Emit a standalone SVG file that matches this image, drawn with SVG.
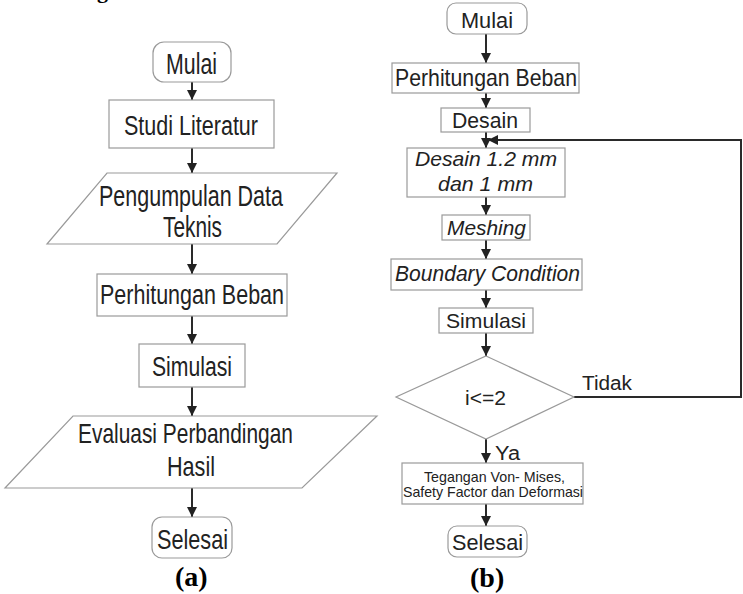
<svg xmlns="http://www.w3.org/2000/svg" width="743" height="594" viewBox="0 0 743 594">
<style>
.box{fill:#fff;stroke:#9a9a9a;stroke-width:1.2}
.t{font-family:"Liberation Sans",Arial,sans-serif;fill:#222}
.i{font-style:italic}
.c{stroke:#2a2a2a;stroke-width:2;fill:none}
.cap{font-family:"Liberation Serif","Times New Roman",serif;font-weight:bold;fill:#000}
</style>
<defs>
<marker id="ah" markerUnits="userSpaceOnUse" markerWidth="12" markerHeight="12" refX="10" refY="5" orient="auto">
<path d="M0,0 L10,5 L0,10 Z" fill="#222"/>
</marker>
</defs>
<rect width="743" height="594" fill="#fff"/>
<text class="cap" x="97" y="-2" font-size="22">g</text>

<g id="connectors">
<line class="c" x1="192" y1="82" x2="192" y2="100" marker-end="url(#ah)"/>
<line class="c" x1="192" y1="148" x2="192" y2="173" marker-end="url(#ah)"/>
<line class="c" x1="192" y1="244" x2="192" y2="274" marker-end="url(#ah)"/>
<line class="c" x1="192" y1="316" x2="192" y2="344" marker-end="url(#ah)"/>
<line class="c" x1="192" y1="387" x2="192" y2="416" marker-end="url(#ah)"/>
<line class="c" x1="192" y1="488" x2="192" y2="517" marker-end="url(#ah)"/>
<line class="c" x1="486" y1="34" x2="486" y2="63" marker-end="url(#ah)"/>
<line class="c" x1="486" y1="93" x2="486" y2="108" marker-end="url(#ah)"/>
<line class="c" x1="486" y1="132" x2="486" y2="148" marker-end="url(#ah)"/>
<line class="c" x1="486" y1="197" x2="486" y2="215" marker-end="url(#ah)"/>
<line class="c" x1="486" y1="240" x2="486" y2="259" marker-end="url(#ah)"/>
<line class="c" x1="486" y1="290" x2="486" y2="308" marker-end="url(#ah)"/>
<line class="c" x1="486" y1="333" x2="486" y2="356" marker-end="url(#ah)"/>
<line class="c" x1="486" y1="439" x2="486" y2="463" marker-end="url(#ah)"/>
<line class="c" x1="486" y1="504" x2="486" y2="526" marker-end="url(#ah)"/>
<polyline class="c" points="574,397 741,397 741,140 488,140" marker-end="url(#ah)"/>
<text class="t" x="582" y="390" font-size="20" textLength="50" lengthAdjust="spacingAndGlyphs">Tidak</text>
<text class="t" x="495" y="460" font-size="20" textLength="25" lengthAdjust="spacingAndGlyphs">Ya</text>
</g>

<g id="a-mulai">
<rect class="box" x="153" y="42" width="78" height="40" rx="11"/>
<text class="t" x="166" y="74" font-size="29" textLength="51" lengthAdjust="spacingAndGlyphs">Mulai</text>
</g>
<g id="a-studi">
<rect class="box" x="109" y="100" width="165" height="48"/>
<text class="t" x="124" y="135" font-size="27" textLength="134" lengthAdjust="spacingAndGlyphs">Studi Literatur</text>
</g>
<g id="a-pengumpulan">
<polygon class="box" points="107,173 337,173 277,244 47,244"/>
<text class="t" x="99" y="206" font-size="29" textLength="184" lengthAdjust="spacingAndGlyphs">Pengumpulan Data</text>
<text class="t" x="163" y="237" font-size="29" textLength="59" lengthAdjust="spacingAndGlyphs">Teknis</text>
</g>
<g id="a-perhitungan">
<rect class="box" x="97" y="274" width="190" height="42"/>
<text class="t" x="100" y="304" font-size="27" textLength="184" lengthAdjust="spacingAndGlyphs">Perhitungan Beban</text>
</g>
<g id="a-simulasi">
<rect class="box" x="139" y="344" width="106" height="43"/>
<text class="t" x="152" y="376" font-size="27" textLength="80" lengthAdjust="spacingAndGlyphs">Simulasi</text>
</g>
<g id="a-evaluasi">
<polygon class="box" points="73,416 377,416 302,488 5,488"/>
<text class="t" x="78" y="443" font-size="28" textLength="215" lengthAdjust="spacingAndGlyphs">Evaluasi Perbandingan</text>
<text class="t" x="167" y="476" font-size="28" textLength="48" lengthAdjust="spacingAndGlyphs">Hasil</text>
</g>
<g id="a-selesai">
<rect class="box" x="152" y="517" width="80" height="41" rx="10"/>
<text class="t" x="157" y="549" font-size="28" textLength="71" lengthAdjust="spacingAndGlyphs">Selesai</text>
</g>
<text class="cap" x="175" y="586" font-size="28">(a)</text>

<g id="b-mulai">
<rect class="box" x="447" y="3" width="80" height="31" rx="9"/>
<text class="t" x="461" y="28" font-size="22" textLength="52" lengthAdjust="spacingAndGlyphs">Mulai</text>
</g>
<g id="b-perhitungan">
<rect class="box" x="392" y="63" width="187" height="30"/>
<text class="t" x="395" y="86" font-size="24" textLength="182" lengthAdjust="spacingAndGlyphs">Perhitungan Beban</text>
</g>
<g id="b-desain">
<rect class="box" x="441" y="108" width="89" height="24"/>
<text class="t" x="452" y="128" font-size="22" textLength="66" lengthAdjust="spacingAndGlyphs">Desain</text>
</g>
<g id="b-desain2">
<rect class="box" x="407" y="148" width="158" height="49"/>
<text class="t i" x="415" y="166" font-size="21" textLength="142" lengthAdjust="spacingAndGlyphs">Desain 1.2 mm</text>
<text class="t i" x="438" y="191" font-size="21" textLength="95" lengthAdjust="spacingAndGlyphs">dan 1 mm</text>
</g>
<g id="b-meshing">
<rect class="box" x="442" y="215" width="88" height="25"/>
<text class="t i" x="447" y="235" font-size="21" textLength="79" lengthAdjust="spacingAndGlyphs">Meshing</text>
</g>
<g id="b-boundary">
<rect class="box" x="391" y="259" width="191" height="31"/>
<text class="t i" x="395" y="281" font-size="22" textLength="185" lengthAdjust="spacingAndGlyphs">Boundary Condition</text>
</g>
<g id="b-simulasi">
<rect class="box" x="439" y="308" width="94" height="25"/>
<text class="t" x="446" y="328" font-size="21" textLength="80" lengthAdjust="spacingAndGlyphs">Simulasi</text>
</g>
<g id="b-decision">
<polygon class="box" points="486,356 574,397 486,439 396,397"/>
<text class="t" x="465" y="405" font-size="21" textLength="41" lengthAdjust="spacingAndGlyphs">i&lt;=2</text>
</g>
<g id="b-hasil">
<rect class="box" x="402" y="463" width="181" height="41"/>
<text class="t" x="424" y="482" font-size="14.5" textLength="141" lengthAdjust="spacingAndGlyphs">Tegangan Von- Mises,</text>
<text class="t" x="403" y="497" font-size="14.5" textLength="180" lengthAdjust="spacingAndGlyphs">Safety Factor dan Deformasi</text>
</g>
<g id="b-selesai">
<rect class="box" x="448" y="526" width="79" height="31" rx="9"/>
<text class="t" x="452" y="550" font-size="22" textLength="71" lengthAdjust="spacingAndGlyphs">Selesai</text>
</g>
<text class="cap" x="470" y="587" font-size="28">(b)</text>
</svg>
